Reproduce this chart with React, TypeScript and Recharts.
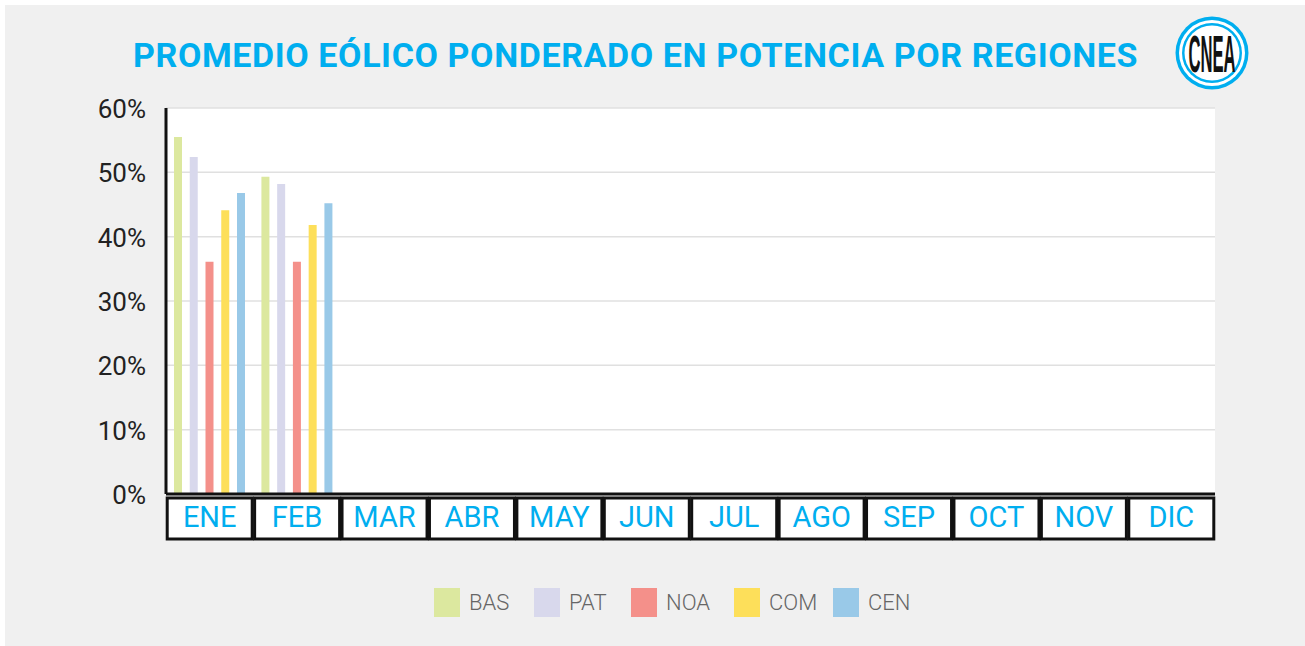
import { Bar, BarChart, CartesianGrid, Legend, XAxis, YAxis } from "recharts";

const months = ["ENE", "FEB", "MAR", "ABR", "MAY", "JUN", "JUL", "AGO", "SEP", "OCT", "NOV", "DIC"];
const bas = [55.5, 49.3];
const pat = [52.4, 48.2];
const noa = [36.1, 36.1];
const com = [44.1, 41.8];
const cen = [46.8, 45.2];
const yTicks = [0, 10, 20, 30, 40, 50, 60];

const regions = [
  { key: "BAS", values: bas, color: "#dce89f" },
  { key: "PAT", values: pat, color: "#d8d8ec" },
  { key: "NOA", values: noa, color: "#f4908a" },
  { key: "COM", values: com, color: "#fddf5a" },
  { key: "CEN", values: cen, color: "#99c9e8" },
];

const data = months.map((name, i) => {
  const row: Record<string, string | number | null> = { name };
  regions.forEach((r) => {
    row[r.key] = r.values[i] ?? null;
  });
  return row;
});

const BLUE = "#00aeef";
const FONT = "Roboto, sans-serif";

const MonthTick = ({ x, y, payload }: any) => (
  <g>
    <rect x={x - 42.5} y={y - 4} width={85} height={41} fill="#fff" stroke="#111" strokeWidth={3} />
    <text x={x} y={y + 25} textAnchor="middle" fontSize={29} fontFamily={FONT} fill={BLUE}>
      {payload.value}
    </text>
  </g>
);

const YTick = ({ x, y, payload }: any) => (
  <text x={x + 6} y={y + 10} textAnchor="end" fontSize={26} fontFamily={FONT} fill="#222">
    {`${payload.value}%`}
  </text>
);

const legendWidths: Record<string, number> = { BAS: 100, PAT: 97, NOA: 103, COM: 99, CEN: 90 };

const LegendRow = ({ payload }: any) => (
  <div style={{ display: "flex", alignItems: "center", height: 29, marginLeft: 434 }}>
    {(payload ?? []).map((p: any) => (
      <div key={p.value} style={{ display: "flex", alignItems: "center", width: legendWidths[p.value] }}>
        <span style={{ width: 26, height: 29, background: p.color, marginRight: 9 }} />
        <span style={{ fontFamily: FONT, fontWeight: 300, fontSize: 22, color: "#666" }}>{p.value}</span>
      </div>
    ))}
  </div>
);

const Logo = () => (
  <svg width={76} height={76} viewBox="0 0 76 76" style={{ position: "absolute", left: 1174, top: 15 }}>
    <circle cx={38} cy={38} r={36.5} fill={BLUE} />
    <circle cx={38} cy={38} r={33} fill="#fff" />
    <circle cx={38} cy={38} r={30} fill={BLUE} />
    <circle cx={38} cy={38} r={27.5} fill="#fff" />
    <text
      transform="translate(38 57) scale(0.32 1)"
      textAnchor="middle"
      fontFamily="'Liberation Sans Narrow', 'Liberation Sans', sans-serif"
      fontWeight={700}
      fontSize={52}
      fill="#111"
    >
      CNEA
    </text>
  </svg>
);

export default function App() {
  return (
    <div style={{ position: "absolute", left: 0, top: 0, width: 1305, height: 646, background: "#fff", overflow: "hidden" }}>
      <div style={{ position: "absolute", left: 5, top: 5, width: 1300, height: 641, background: "#f0f0f0" }} />
      <div
        style={{
          position: "absolute",
          left: 133,
          top: 35,
          whiteSpace: "nowrap",
          fontFamily: FONT,
          fontWeight: 700,
          fontSize: 34,
          letterSpacing: 0.6,
          color: BLUE,
        }}
      >
        PROMEDIO EÓLICO PONDERADO EN POTENCIA POR REGIONES
      </div>
      <Logo />
      <div style={{ position: "absolute", left: 0, top: 0 }}>
        <BarChart
          width={1305}
          height={646}
          data={data}
          barSize={8}
          barGap={7.75}
          margin={{ top: 108, right: 90, bottom: 0, left: 0 }}
        >
          <CartesianGrid vertical={false} stroke="#e0e0e0" strokeWidth={1.5} fill="#fff" />
          <XAxis
            dataKey="name"
            interval={0}
            height={152}
            tickLine={false}
            axisLine={{ stroke: "#111", strokeWidth: 3 }}
            tick={<MonthTick />}
          />
          <YAxis
            width={166}
            domain={[0, 60]}
            ticks={yTicks}
            tickLine={false}
            tickMargin={20}
            axisLine={{ stroke: "#111", strokeWidth: 3 }}
            tick={<YTick />}
          />
          <Legend
            content={<LegendRow />}
            itemSorter={null}
            wrapperStyle={{ position: "absolute", top: 588, left: 0, width: 1305, height: 0 }}
          />
          {regions.map((r) => (
            <Bar key={r.key} dataKey={r.key} fill={r.color} isAnimationActive={false} />
          ))}
        </BarChart>
      </div>
    </div>
  );
}
